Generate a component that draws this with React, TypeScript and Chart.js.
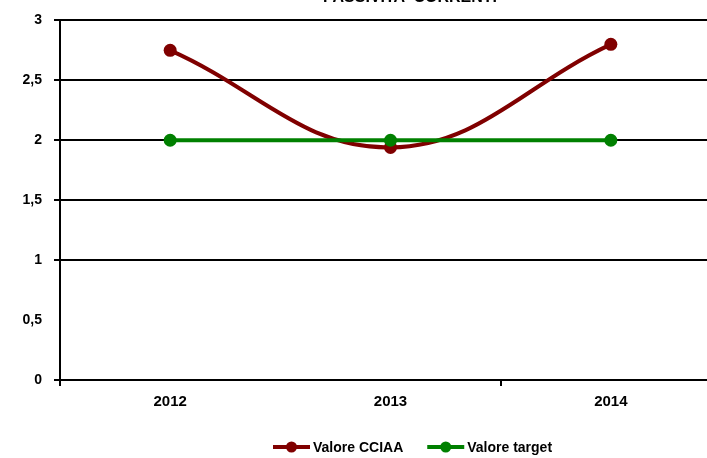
import React, { useEffect, useRef } from "react";
import { Chart, registerables } from "chart.js";

Chart.register(...registerables);

const categories = ["2012", "2013", "2014"];
const seriesCCIAA = [2.75, 1.94, 2.8];
const seriesTarget = [2, 2, 2];
const seriesNames = ["Valore CCIAA", "Valore target"];
const titleText = "PASSIVITA' CORRENTI";

const FONT = "'Liberation Sans', Arial, sans-serif";

const titlePlugin = {
  id: "cutTitle",
  afterDraw(chart: any) {
    const ctx = chart.ctx;
    ctx.save();
    ctx.fillStyle = "#000";
    ctx.font = `bold 16px ${FONT}`;
    ctx.textAlign = "center";
    ctx.textBaseline = "alphabetic";
    ctx.fillText(titleText, 410, 2);
    ctx.restore();
  },
};

const legendPlugin = {
  id: "bottomLegend",
  afterDraw(chart: any) {
    const ctx = chart.ctx;
    ctx.save();
    ctx.font = `bold 14px ${FONT}`;
    ctx.textBaseline = "middle";
    ctx.textAlign = "left";
    const y = 447;
    let x = 273;
    chart.data.datasets.forEach((ds: any) => {
      const lineLen = 37;
      ctx.strokeStyle = ds.borderColor;
      ctx.lineWidth = 4;
      ctx.beginPath();
      ctx.moveTo(x, y);
      ctx.lineTo(x + lineLen, y);
      ctx.stroke();
      ctx.fillStyle = ds.borderColor;
      ctx.beginPath();
      ctx.arc(x + lineLen / 2, y, 5.5, 0, Math.PI * 2);
      ctx.fill();
      ctx.fillStyle = "#000";
      ctx.fillText(ds.label, x + lineLen + 3, y + 1);
      const w = ctx.measureText(ds.label).width;
      x = x + lineLen + 3 + w + 24;
    });
    ctx.restore();
  },
};

export default function App() {
  const ref = useRef<HTMLCanvasElement>(null);
  useEffect(() => {
    if (!ref.current) return;
    const chart = new Chart(ref.current, {
      type: "line",
      data: {
        labels: categories,
        datasets: [
          {
            label: seriesNames[0],
            data: seriesCCIAA,
            borderColor: "#800000",
            backgroundColor: "#800000",
            borderWidth: 4,
            pointRadius: 6.5,
            pointBorderWidth: 0,
            pointBackgroundColor: "#800000",
            tension: 0.4,
            order: 1,
          },
          {
            label: seriesNames[1],
            data: seriesTarget,
            borderColor: "#008000",
            backgroundColor: "#008000",
            borderWidth: 4,
            pointRadius: 6.5,
            pointBorderWidth: 0,
            pointBackgroundColor: "#008000",
            tension: 0,
            order: 0,
          },
        ],
      },
      options: {
        responsive: false,
        animation: false,
        layout: { padding: { top: 16, right: 9, left: 0, bottom: 0 } },
        plugins: {
          legend: { display: false },
          title: { display: false },
          tooltip: { enabled: false },
        },
        scales: {
          x: {
            offset: true,
            grid: {
              offset: true,
              drawOnChartArea: false,
              drawTicks: true,
              tickLength: 6,
              lineWidth: 2,
              color: (c: any) => (c.index === 1 ? "rgba(0,0,0,0)" : "#000"),
            },
            border: { color: "#000", width: 2 },
            ticks: {
              color: "#000",
              padding: 7,
              font: { family: FONT, size: 15, weight: "bold" },
            },
            afterFit: (s: any) => {
              s.height = 78;
            },
          },
          y: {
            min: 0,
            max: 3,
            ticks: {
              stepSize: 0.5,
              color: "#000",
              padding: 12,
              font: { family: FONT, size: 14, weight: "bold" },
              callback: (v: any) => String(v).replace(".", ","),
            },
            grid: {
              tickLength: 6,
              lineWidth: 2,
              color: (c: any) =>
                c.tick && c.tick.value === 0.5 ? "rgba(0,0,0,0)" : "#000",
            },
            border: { color: "#000", width: 2 },
            afterFit: (s: any) => {
              s.width = 60;
            },
          },
        },
      },
      plugins: [titlePlugin, legendPlugin],
    });
    return () => chart.destroy();
  }, []);
  return (
    <div
      style={{
        position: "fixed",
        left: 0,
        top: 0,
        width: 707,
        height: 458,
        overflow: "hidden",
        background: "#fff",
      }}
    >
      <canvas ref={ref} width={730} height={458} />
    </div>
  );
}
